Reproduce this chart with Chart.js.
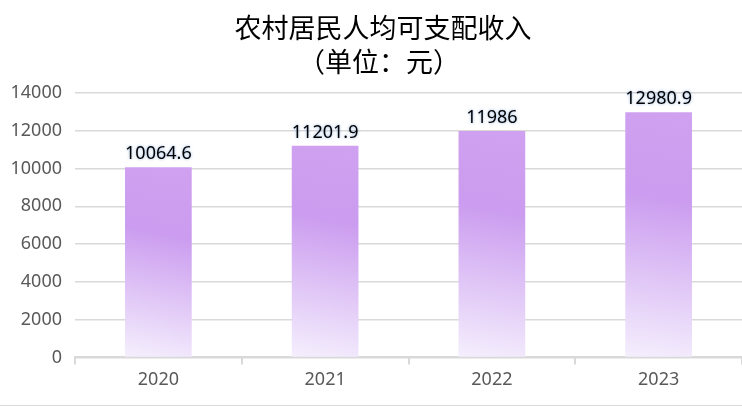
<!DOCTYPE html>
<html>
<head>
<meta charset="utf-8">
<script src="https://cdn.jsdelivr.net/npm/chart.js@4.4.1/dist/chart.umd.min.js"></script>
<style>
  html,body{margin:0;padding:0;background:#fff;}
  #wrap{width:742px;height:405px;border-bottom:1px solid #d9d9d9;}
</style>
</head>
<body>
<div id="wrap"><canvas id="chart" width="742" height="405"></canvas></div>
<script>
const years = ['2020','2021','2022','2023'];
const income = [10064.6, 11201.9, 11986, 12980.9];
const incomeLabels = ['10064.6','11201.9','11986','12980.9'];
const titleLines = ['农村居民人均可支配收入','（单位：元）'];

const grid = '#d9d9d9';
const tickColor = '#595959';

// gradient per bar, light at the bottom
function barFill(ctx){
  const chart = ctx.chart;
  const area = chart.chartArea;
  if(!area || ctx.type!=='data') return '#CC9DF0';
  const xs = chart.scales.x, ys = chart.scales.y;
  const cx = xs.getPixelForValue(ctx.dataIndex);
  const half = 33;
  const top = ys.getPixelForValue(income[ctx.dataIndex]);
  const g = chart.ctx.createLinearGradient(cx+half*0.6, top, cx-half*0.6, area.bottom);
  g.addColorStop(0, '#D0A1F0');
  g.addColorStop(0.35, '#CB9CEF');
  g.addColorStop(1, '#F4EEFD');
  return g;
}

// title sits a little right of the canvas centre
const titleBlock = {
  id:'titleBlock',
  afterDraw(chart){
    const c = chart.ctx;
    c.save();
    c.font = '27px "Noto Sans CJK SC", sans-serif';
    c.textAlign = 'center';
    c.textBaseline = 'middle';
    c.fillStyle = '#000';
    c.fillText(titleLines[0], 383, 28);
    c.fillText(titleLines[1], 379, 62);
    c.restore();
  }
};

const valueLabels = {
  id:'valueLabels',
  afterDatasetsDraw(chart){
    const c = chart.ctx;
    const meta = chart.getDatasetMeta(0);
    c.save();
    c.font = '18px "Noto Sans", sans-serif';
    c.textAlign = 'center';
    c.textBaseline = 'bottom';
    c.fillStyle = '#000';
    c.shadowColor = 'rgba(90,140,210,0.7)';
    c.shadowBlur = 3;
    meta.data.forEach((bar,i)=>{
      c.fillText(incomeLabels[i], bar.x, bar.y-4);
    });
    c.restore();
  }
};

new Chart(document.getElementById('chart'), {
  type:'bar',
  data:{
    labels: years,
    datasets:[{
      data: income,
      backgroundColor: barFill,
      borderWidth: 0,
      categoryPercentage: 1,
      barPercentage: 0.4
    }]
  },
  options:{
    responsive:false,
    animation:false,
    devicePixelRatio:1,
    layout:{padding:{left:0,right:0,top:93,bottom:9}},
    plugins:{
      legend:{display:false},
      tooltip:{enabled:false},
      title:{display:false}
    },
    scales:{
      x:{
        grid:{display:true, offset:true, drawOnChartArea:false, color:grid, lineWidth:2, tickLength:7},
        border:{display:true, color:grid, width:2},
        ticks:{color:tickColor, font:{family:'"Noto Sans", sans-serif', size:18}, padding:5}
      },
      y:{
        min:0, max:14000,
        afterFit(s){ s.width = 75; },
        ticks:{stepSize:2000, color:tickColor, font:{family:'"Noto Sans", sans-serif', size:18}, padding:13,
          callback:(v)=>String(v)},
        grid:{color:grid, lineWidth:1.5, drawTicks:false},
        border:{display:false}
      }
    }
  },
  plugins:[valueLabels, titleBlock]
});
</script>
</body>
</html>
